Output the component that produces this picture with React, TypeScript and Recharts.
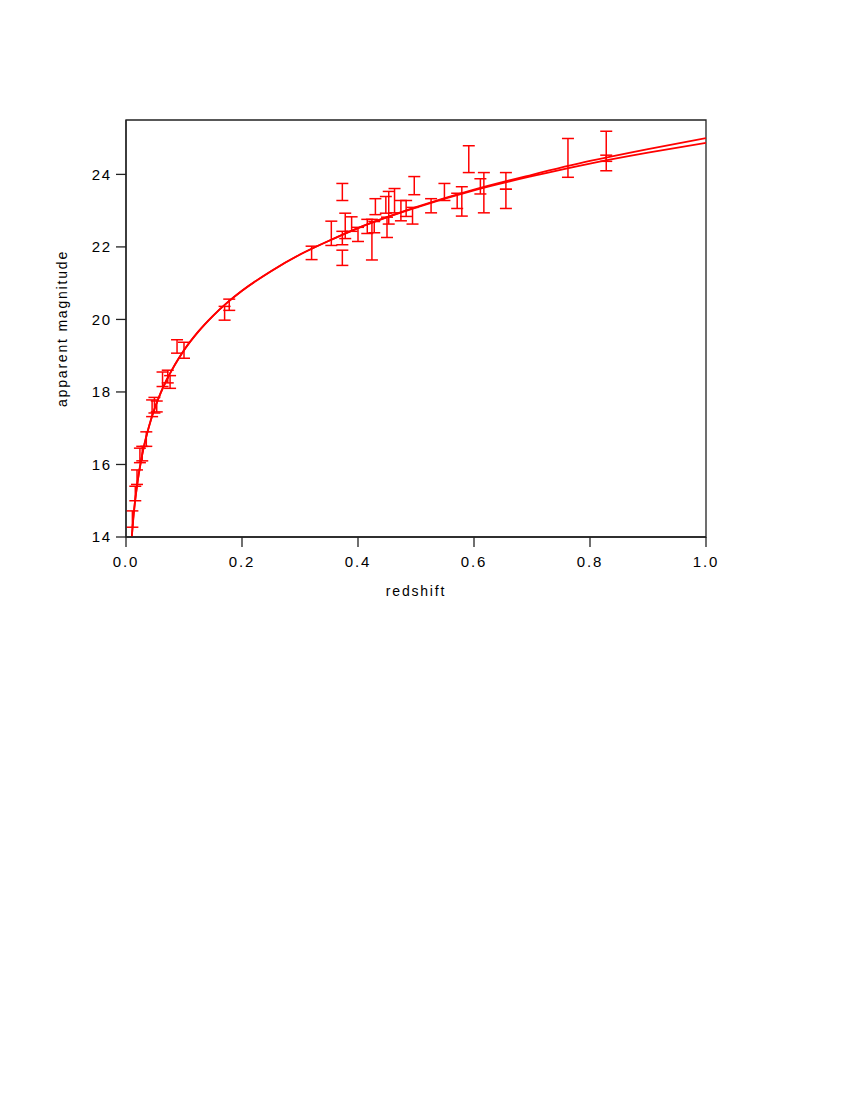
import React from 'react';
import { ComposedChart, XAxis, YAxis, Line, Scatter, ErrorBar, ReferenceArea, Label } from 'recharts';

// Supernova observations: redshift and apparent magnitude error range
const redshift = [
  0.011, 0.016, 0.019, 0.024, 0.028, 0.035, 0.045, 0.049, 0.053, 0.063, 0.072, 0.076,
  0.088, 0.1, 0.17, 0.178, 0.32, 0.354, 0.373, 0.373, 0.373, 0.378, 0.389, 0.4,
  0.416, 0.424, 0.428, 0.43, 0.448, 0.45, 0.453, 0.463, 0.474, 0.483, 0.494, 0.497,
  0.526, 0.549, 0.571, 0.579, 0.591, 0.611, 0.617, 0.655, 0.655, 0.762, 0.828, 0.828,
];
const magLow = [
  14.27, 15.0, 15.45, 16.05, 16.1, 16.5, 17.32, 17.42, 17.45, 18.15, 18.25, 18.1,
  19.07, 18.93, 19.98, 20.25, 21.65, 22.04, 23.28, 22.06, 21.49, 22.23, 22.43, 22.15,
  22.37, 21.64, 22.39, 22.89, 22.93, 22.26, 22.63, 22.94, 22.72, 22.84, 22.63, 23.44,
  22.94, 23.28, 23.06, 22.85, 24.05, 23.46, 22.94, 23.59, 23.06, 23.92, 24.1, 24.36,
];
const magHigh = [
  14.72, 15.4, 15.85, 16.45, 16.5, 16.9, 17.78, 17.85, 17.75, 18.55, 18.6, 18.45,
  19.44, 19.37, 20.36, 20.56, 22.02, 22.71, 23.75, 22.43, 21.91, 22.93, 22.83, 22.54,
  22.76, 22.76, 22.7, 23.33, 23.39, 22.82, 23.53, 23.61, 23.28, 23.28, 23.09, 23.94,
  23.33, 23.75, 23.48, 23.66, 24.79, 23.88, 24.05, 24.05, 23.59, 24.99, 25.19, 24.53,
];

// Model curves
const curveZ = [
  0.01, 0.0125, 0.015, 0.0175, 0.02, 0.025, 0.03, 0.035, 0.04, 0.05, 0.06, 0.07, 0.08,
  0.09, 0.1, 0.125, 0.15, 0.175, 0.2, 0.25, 0.3, 0.35, 0.4, 0.5, 0.6, 0.7, 0.8, 0.9, 1.0,
];
const curveLower = [
  14.01, 14.5, 14.9, 15.23, 15.53, 16.02, 16.43, 16.77, 17.07, 17.57, 17.98, 18.33, 18.63,
  18.9, 19.15, 19.67, 20.1, 20.47, 20.79, 21.33, 21.79, 22.17, 22.52, 23.085, 23.56, 23.95, 24.3, 24.6, 24.87,
];
const curveUpper = [
  14.01, 14.5, 14.9, 15.23, 15.53, 16.02, 16.43, 16.77, 17.07, 17.57, 17.98, 18.33, 18.63,
  18.9, 19.15, 19.67, 20.1, 20.47, 20.79, 21.33, 21.79, 22.17, 22.52, 23.095, 23.58, 23.99, 24.37, 24.7, 25.0,
];

const xTicks = [0, 0.2, 0.4, 0.6, 0.8, 1.0];
const yTicks = [14, 16, 18, 20, 22, 24];
const xDomain: [number, number] = [0, 1];
const yDomain: [number, number] = [14, 25.5];

const points = redshift.map((z, i) => ({
  z,
  m: (magLow[i] + magHigh[i]) / 2,
  err: (magHigh[i] - magLow[i]) / 2,
}));
const curve = curveZ.map((z, i) => ({ z, lower: curveLower[i], upper: curveUpper[i] }));

const FONT = 'Liberation Sans, Arial, sans-serif';
const RED = '#ff0000';
const AXIS = '#222222';
const tickStyle = { fill: '#000', fontSize: 15, fontFamily: FONT, letterSpacing: 1.8 };

const XTitle = (props: any) => {
  const vb = props.viewBox || {};
  return (
    <text
      x={vb.x + vb.width / 2}
      y={vb.y + 54}
      textAnchor="middle"
      dominantBaseline="central"
      fontFamily={FONT}
      fontSize={14}
      letterSpacing={1.8}
      fill="#000"
    >
      redshift
    </text>
  );
};

const YTitle = (props: any) => {
  const vb = props.viewBox || {};
  const x = vb.x + 16;
  const y = vb.y + vb.height / 2;
  return (
    <text
      x={x}
      y={y}
      transform={`rotate(-90, ${x}, ${y})`}
      textAnchor="middle"
      dominantBaseline="central"
      fontFamily={FONT}
      fontSize={14}
      letterSpacing={1.8}
      fill="#000"
    >
      apparent magnitude
    </text>
  );
};

const NoShape = () => <g />;

export default function App() {
  return (
    <div style={{ width: 720, height: 600 }}>
      <ComposedChart
        width={720}
        height={600}
        margin={{ top: 112, right: 22, bottom: 11, left: 38 }}
      >
        <XAxis
          dataKey="z"
          type="number"
          domain={xDomain}
          ticks={xTicks}
          tickFormatter={(v: number) => v.toFixed(1)}
          allowDataOverflow
          height={60}
          tickSize={10}
          tickMargin={9}
          tick={tickStyle}
          axisLine={{ stroke: AXIS, strokeWidth: 1.3 }}
          tickLine={{ stroke: AXIS, strokeWidth: 1.3 }}
        >
          <Label content={XTitle} />
        </XAxis>
        <YAxis
          type="number"
          domain={yDomain}
          ticks={yTicks}
          allowDataOverflow
          width={80}
          tickSize={10}
          tickMargin={4}
          tick={tickStyle}
          axisLine={{ stroke: AXIS, strokeWidth: 1.3 }}
          tickLine={{ stroke: AXIS, strokeWidth: 1.3 }}
        >
          <Label content={YTitle} />
        </YAxis>
        <ReferenceArea
          x1={0}
          x2={1}
          y1={14}
          y2={25.5}
          fill="none"
          fillOpacity={0}
          stroke={AXIS}
          strokeWidth={1.3}
          ifOverflow="extendDomain"
        />
        <Line
          data={curve}
          dataKey="upper"
          type="monotone"
          stroke={RED}
          strokeWidth={1.8}
          dot={false}
          activeDot={false}
          isAnimationActive={false}
        />
        <Line
          data={curve}
          dataKey="lower"
          type="monotone"
          stroke={RED}
          strokeWidth={1.8}
          dot={false}
          activeDot={false}
          isAnimationActive={false}
        />
        <Scatter data={points} dataKey="m" shape={NoShape} isAnimationActive={false}>
          <ErrorBar dataKey="err" direction="y" width={6} stroke={RED} strokeWidth={1.5} isAnimationActive={false} />
        </Scatter>
      </ComposedChart>
    </div>
  );
}
